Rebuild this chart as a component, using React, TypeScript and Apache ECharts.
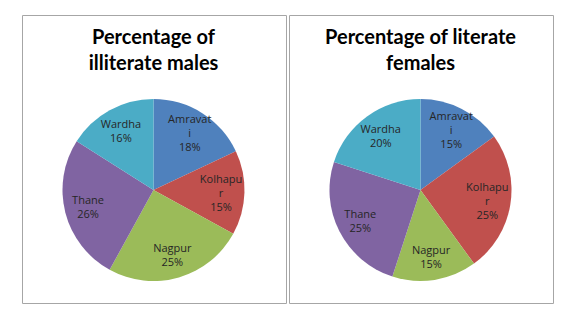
import React, { useEffect, useRef } from "react";
import * as echarts from "echarts";

const districts = ["Amravati", "Kolhapur", "Nagpur", "Thane", "Wardha"];
const illiterateMales = [18, 15, 25, 26, 16];
const literateFemales = [15, 25, 15, 25, 20];
const sliceColors = ["#4F81BD", "#C0504D", "#9BBB59", "#8064A2", "#4BACC6"];
const titleLeft = "Percentage of\nilliterate males";
const titleRight = "Percentage of literate\nfemales";

const FONT = "Lato, 'Open Sans', sans-serif";
const LABEL_FONT = "'Open Sans', Lato, sans-serif";

function wrapName(name: string): string {
  return name.length > 7 ? name.slice(0, 7) + "\n" + name.slice(7) : name;
}

function pieSeries(values: number[], cx: number, cy: number, r: number) {
  const data = districts.map((n, i) => ({ name: n, value: values[i] }));
  return [
    {
      type: "pie",
      center: [cx, cy],
      radius: [0, r],
      startAngle: 90,
      clockwise: true,
      label: { show: false },
      labelLine: { show: false },
      itemStyle: { borderWidth: 0 },
      data: data.map((d, i) => ({ ...d, itemStyle: { color: sliceColors[i] } })),
      silent: true,
    },
    {
      type: "pie",
      center: [cx, cy],
      radius: [0, r * 1.42],
      startAngle: 90,
      clockwise: true,
      silent: true,
      z: 3,
      itemStyle: { color: "rgba(0,0,0,0)", borderWidth: 0 },
      label: {
        show: true,
        position: "inside",
        formatter: (p: any) => wrapName(p.name) + "\n" + p.value + "%",
        fontFamily: LABEL_FONT,
        fontSize: 11,
        lineHeight: 14,
        color: "#262626",
        align: "center",
      },
      labelLine: { show: false },
      data,
    },
  ];
}

export default function App() {
  const ref = useRef<HTMLDivElement>(null);
  useEffect(() => {
    if (!ref.current) return;
    const chart = echarts.init(ref.current, undefined, { renderer: "svg" });
    chart.setOption({
      animation: false,
      backgroundColor: "#FFFFFF",
      graphic: [
        {
          type: "rect",
          shape: { x: 22.5, y: 15.5, width: 264, height: 288 },
          style: { fill: "none", stroke: "#A6A6A6", lineWidth: 1 },
        },
        {
          type: "rect",
          shape: { x: 289.5, y: 15.5, width: 264, height: 288 },
          style: { fill: "none", stroke: "#A6A6A6", lineWidth: 1 },
        },
        {
          type: "text",
          x: 153.5,
          y: 23,
          style: {
            text: titleLeft,
            textAlign: "center",
            font: `bold 20px ${FONT}`,
            lineHeight: 26,
            fill: "#000000",
          },
        },
        {
          type: "text",
          x: 420.5,
          y: 23,
          style: {
            text: titleRight,
            textAlign: "center",
            font: `bold 20px ${FONT}`,
            lineHeight: 26,
            fill: "#000000",
          },
        },
      ],
      series: [
        ...pieSeries(illiterateMales, 153.5, 190, 91),
        ...pieSeries(literateFemales, 420.5, 190, 91),
      ],
    });
    return () => chart.dispose();
  }, []);
  return (
    <div
      ref={ref}
      style={{ position: "fixed", left: 0, top: 0, width: 576, height: 323 }}
    />
  );
}
